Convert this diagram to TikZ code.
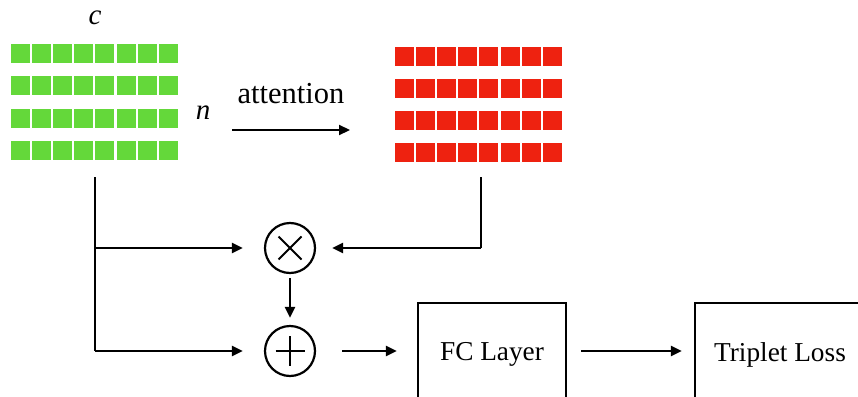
\documentclass[tikz,border=0pt]{standalone}
\usepackage{fontspec}
\setmainfont{Liberation Serif}
\usetikzlibrary{arrows.meta}
\definecolor{gsq}{RGB}{100,216,58}
\definecolor{rsq}{RGB}{238,34,16}
\tikzset{
  sq/.style={draw=none, minimum size=19pt, inner sep=0pt, outer sep=0pt},
  arr/.style={line width=2.2pt, -{Triangle[length=11pt,width=10pt]}},
  ln/.style={line width=2.2pt},
  opc/.style={circle, draw, line width=2.2pt, minimum size=50pt, inner sep=0pt},
  boxn/.style={draw, line width=2.2pt, inner sep=0pt, font=\fontsize{27.3}{32}\selectfont},
  lbl/.style={inner sep=0pt, font=\fontsize{29}{34}\selectfont}
}
\begin{document}
\begin{tikzpicture}[x=1pt,y=-1pt]
\useasboundingbox (0,0) rectangle (858,396);
\clip (0,0) rectangle (858,396);
% grids
\foreach \j in {0,...,3}{
  \foreach \i in {0,...,7}{
    \node[sq, fill=gsq] (g-\i-\j) at ({11+9.5+21.1*\i},{44+9.5+32.3*\j}) {};
    \node[sq, fill=rsq] (r-\i-\j) at ({395+9.5+21.1*\i},{47+9.5+32*\j}) {};
  }
}
\node[lbl] (c) at (95,18) {\textit{c}};
\node[lbl] (n) at (203,113) {\textit{n}};
\node[lbl, font=\fontsize{30.5}{36}\selectfont] (att) at (291,94) {attention};
\coordinate (a1) at (232,130);
\coordinate (a2) at (350,130);
\draw[arr] (a1) -- (a2);
% operators
\node[opc, path picture={
  \draw[line width=1.8pt] ([shift={(-11.5,-11.5)}]path picture bounding box.center) -- ([shift={(11.5,11.5)}]path picture bounding box.center);
  \draw[line width=1.8pt] ([shift={(-11.5,11.5)}]path picture bounding box.center) -- ([shift={(11.5,-11.5)}]path picture bounding box.center);
}] (mul) at (290,248) {};
\node[opc, path picture={
  \draw[line width=1.8pt] ([shift={(-14.5,0)}]path picture bounding box.center) -- ([shift={(14.5,0)}]path picture bounding box.center);
  \draw[line width=1.8pt] ([shift={(0,-15)}]path picture bounding box.center) -- ([shift={(0,15)}]path picture bounding box.center);
}] (add) at (290,351) {};
% boxes
\node[boxn, minimum width=148pt, minimum height=106pt] (fc) at (492,356) {\raisebox{8.5pt}{FC Layer}};
\node[boxn, minimum width=170pt, minimum height=106pt] (tl) at (780,356) {\raisebox{8.5pt}{Triplet Loss}};
% connectors
\coordinate (gb) at (95,177);
\coordinate (gm) at (95,248);
\coordinate (gl) at (95,351);
\coordinate (rb) at (481,177);
\coordinate (rm) at (481,248);
\draw[ln] (gb) -- (gl);
\draw[arr, shorten >=21pt] (gm) -- (mul);
\draw[arr, shorten >=21pt] (gl) -- (add);
\draw[ln] (rb) -- (rm);
\draw[arr, shorten >=16pt] (rm) -- (mul);
\draw[arr, shorten <=4pt, shorten >=7pt] (mul) -- (add);
\draw[arr, shorten <=26pt, shorten >=20pt] (add.east) -- (add.east -| fc.west);
\draw[arr, shorten <=14pt, shorten >=12pt] (fc.east |- add.east) -- (tl.west |- add.east);
\end{tikzpicture}
\end{document}
